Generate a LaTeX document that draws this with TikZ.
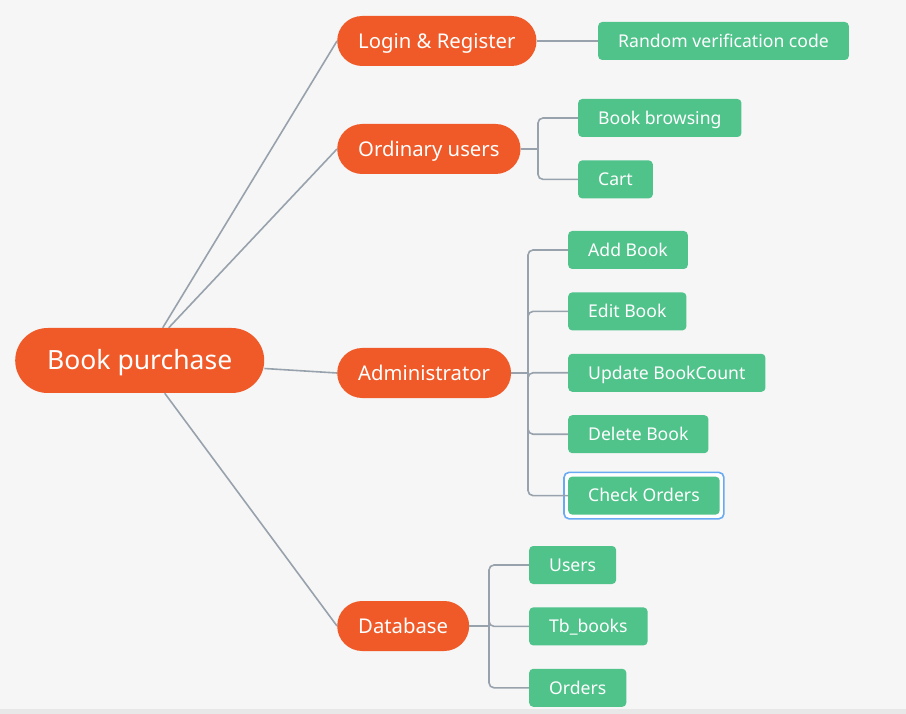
\documentclass[tikz,border=0pt]{standalone}
\usepackage{fontspec}
\setmainfont{Noto Sans}
\usepackage{tikz}
\usetikzlibrary{positioning, fit, backgrounds}
\definecolor{bookorange}{HTML}{F05A28}
\definecolor{leafgreen}{HTML}{50C38B}
\definecolor{linkgray}{HTML}{98A2AD}
\definecolor{pagegray}{HTML}{F6F6F6}
\definecolor{bargray}{HTML}{E8E8E8}
\definecolor{selblue}{HTML}{6AAAF2}

\begin{document}
\begin{tikzpicture}[
    x=1pt, y=-1pt,
    rootnode/.style={fill=bookorange, rounded corners=32.5pt, minimum height=65pt, inner xsep=32pt, inner ysep=2pt, text height=18.9pt, text depth=0pt, text=white, font=\fontsize{26.5}{30}\selectfont},
    branch/.style={fill=bookorange, rounded corners=25pt, minimum height=50pt, inner xsep=21pt, inner ysep=2pt, text height=14.5pt, text depth=0pt, text=white, font=\fontsize{20.3}{24}\selectfont},
    leaf/.style={fill=leafgreen, rounded corners=4pt, minimum height=38pt, inner xsep=20pt, inner ysep=2pt, text height=12.6pt, text depth=0pt, text=white, font=\fontsize{17.6}{21}\selectfont},
    selbox/.style={draw=selblue, fill=white, line width=1.6pt, rounded corners=5pt, inner sep=4pt},
    link/.style={linkgray, line width=1.6pt, rounded corners=5pt},
]
    \useasboundingbox (0,0) rectangle (906,714);

    % Main nodes
    \node[rootnode, anchor=west] (root) at (15,360.5) {Book purchase};
    \node[branch, anchor=west] (login) at (337,41) {Login \& Register};
    \node[branch, anchor=west] (ordinary) at (337,149) {Ordinary users};
    \node[branch, anchor=west] (admin) at (337,373) {Administrator};
    \node[branch, anchor=west] (database) at (337,626) {Database};

    % Leaves
    \node[leaf, anchor=west] (random) at (598,41) {Random verification code};

    \node[leaf, anchor=west] (browse) at (578,118) {Book browsing};
    \node[leaf, below=23pt of browse.south west, anchor=north west] (cart) {Cart};

    \node[leaf, anchor=west] (addbook) at (568,250) {Add Book};
    \node[leaf, below=23pt of addbook.south west, anchor=north west] (editbook) {Edit Book};
    \node[leaf, below=23pt of editbook.south west, anchor=north west] (update) {Update BookCount};
    \node[leaf, below=23pt of update.south west, anchor=north west] (delbook) {Delete Book};
    \node[leaf, below=23pt of delbook.south west, anchor=north west] (check) {Check Orders};

    \node[leaf, anchor=west] (users) at (529,565) {Users};
    \node[leaf, below=23pt of users.south west, anchor=north west] (tbbooks) {Tb\_books};
    \node[leaf, below=23pt of tbbooks.south west, anchor=north west] (orders) {Orders};

    % Page and selection
    \begin{scope}[on background layer]
        \fill[pagegray] (0,0) rectangle (906,714);
        \fill[bargray] (0,709) rectangle (906,714);
        \node[selbox, fit=(check)] (checksel) {};
    \end{scope}

    % Fork points
    \path (browse.west |- ordinary.east) ++(-40,0) coordinate (userfork);
    \path (addbook.west |- admin.east) ++(-40,0) coordinate (adminfork);
    \path (users.west |- database.east) ++(-40,0) coordinate (dbfork);

    % Root connectors
    \draw[link] ([xshift=23pt]root.north) -- (login.west);
    \draw[link] ([xshift=29pt]root.north) -- (ordinary.west);
    \draw[link] ([yshift=-8pt]root.east) -- (admin.west);
    \draw[link] ([xshift=25pt]root.south) -- (database.west);

    % Branch connectors
    \draw[link] (login.east) -- (random.west);

    \draw[link] (ordinary.east) -- (userfork);
    \draw[link] (userfork) |- (browse.west);
    \draw[link] (userfork) |- (cart.west);

    \draw[link] (admin.east) -- (adminfork);
    \foreach \leafname in {addbook, editbook, update, delbook, check}
        \draw[link] (adminfork) |- (\leafname.west);

    \draw[link] (database.east) -- (dbfork);
    \foreach \leafname in {users, tbbooks, orders}
        \draw[link] (dbfork) |- (\leafname.west);

\end{tikzpicture}
\end{document}
